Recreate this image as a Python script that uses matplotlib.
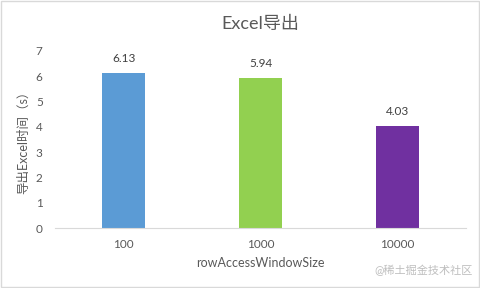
import matplotlib.pyplot as plt
from matplotlib.patches import Rectangle

# данные из графика
categories = ["100", "1000", "10000"]
values = [6.13, 5.94, 4.03]
colors = ["#5B9BD5", "#92D050", "#7030A0"]

plt.rcParams['font.family'] = ['Lato', 'Noto Sans CJK SC', 'DejaVu Sans']

fig = plt.figure(figsize=(4.8, 2.88), dpi=100)
ax = fig.add_axes([0.115, 0.208, 0.856, 0.615])

x = range(len(categories))
bars = ax.bar(x, values, width=0.31, color=colors)
for b, v in zip(bars, values):
    ax.text(b.get_x() + b.get_width() / 2, v + 0.35, f"{v:.2f}",
            ha="center", va="bottom", fontsize=8.5, color="#404040")

ax.set_xlim(-0.5, 2.5)
ax.set_ylim(0, 7)
ax.set_xticks(list(x))
ax.set_xticklabels(categories)
ax.set_yticks(range(0, 8))
ax.tick_params(axis="both", length=0, labelsize=8.5, colors="#595959")
ax.tick_params(axis="y", pad=9)
ax.tick_params(axis="x", pad=8)

for s in ["top", "right", "left"]:
    ax.spines[s].set_visible(False)
ax.spines["bottom"].set_color("#D9D9D9")

ax.set_title("Excel导出", fontsize=13, color="#595959", pad=16)
ax.set_xlabel("rowAccessWindowSize", fontsize=9, color="#595959", labelpad=5)
ax.set_ylabel("导出Excel时间（s）", fontsize=9, color="#595959", labelpad=5)

fig.text(0.985, 0.04, "@稀土掘金技术社区", ha="right", va="bottom",
         fontsize=8, color="#BFBFBF")

fig.patches.append(Rectangle((0.003, 0.003), 0.994, 0.994, transform=fig.transFigure,
                             fill=False, edgecolor="#D9D9D9", linewidth=1))

fig.savefig("out.png", dpi=100)
